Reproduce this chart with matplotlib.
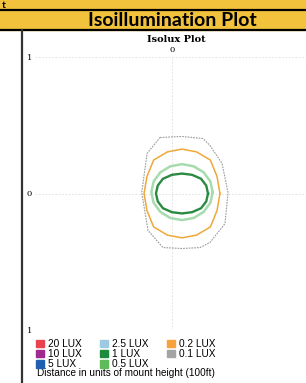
import matplotlib.pyplot as plt
import numpy as np
from matplotlib.patches import Rectangle
from matplotlib.lines import Line2D

W, H = 306, 383

# legend levels
lux_levels = ["20 LUX", "10 LUX", "5 LUX", "2.5 LUX", "1 LUX", "0.5 LUX", "0.2 LUX", "0.1 LUX"]
lux_colors = ["#e8434f", "#a12a8e", "#1f5fb2", "#9ccae2", "#1e8a3c", "#5dbb5a", "#f5a33a", "#a4a4a4"]

# contour outlines (units of mount height)
c01_x = [-0.088, 0.073, 0.226, 0.277, 0.365, 0.409, 0.387, 0.277, 0.204, 0.073, -0.066, -0.175, -0.221, -0.182, -0.088]
c01_y = [0.410, 0.418, 0.403, 0.352, 0.220, 0.007, -0.220, -0.359, -0.396, -0.403, -0.396, -0.271, 0.007, 0.293, 0.410]

c02_x = [0.350, 0.329, 0.280, 0.179, 0.073, -0.033, -0.134, -0.183, -0.204, -0.183, -0.134, -0.033, 0.073, 0.179, 0.280, 0.329, 0.350]
c02_y = [0.000, 0.124, 0.245, 0.305, 0.325, 0.305, 0.245, 0.124, 0.000, -0.124, -0.245, -0.305, -0.325, -0.305, -0.245, -0.124, 0.000]

c05_x = [0.297, 0.280, 0.231, 0.159, 0.073, -0.013, -0.085, -0.134, -0.151, -0.134, -0.085, -0.013, 0.073, 0.159, 0.231, 0.280, 0.297]
c05_y = [0.010, 0.088, 0.155, 0.199, 0.215, 0.199, 0.155, 0.088, 0.010, -0.068, -0.135, -0.179, -0.195, -0.179, -0.135, -0.068, 0.010]

c1_x = [0.263, 0.250, 0.212, 0.146, 0.073, 0.000, -0.066, -0.104, -0.117, -0.104, -0.066, 0.000, 0.073, 0.146, 0.212, 0.250, 0.263]
c1_y = [0.000, 0.058, 0.108, 0.137, 0.146, 0.137, 0.108, 0.058, 0.000, -0.058, -0.108, -0.137, -0.146, -0.137, -0.108, -0.058, 0.000]

fig = plt.figure(figsize=(W / 100, H / 100), dpi=100)

def fx(px):
    return px / W

def fy(py):
    return 1 - py / H

# header bands
yellow = "#f2c23c"
fig.patches.append(Rectangle((0, fy(30)), 1, 30 / H, transform=fig.transFigure, color=yellow, zorder=0))
fig.lines.append(Line2D([0, 1], [fy(9.5), fy(9.5)], transform=fig.transFigure, color="black", lw=1.6))
fig.lines.append(Line2D([0, 1], [fy(30), fy(30)], transform=fig.transFigure, color="black", lw=1.6))
fig.lines.append(Line2D([fx(21.5), fx(21.5)], [fy(30), 0], transform=fig.transFigure, color="#333333", lw=1.6))
fig.text(fx(1.5), fy(8.3), "t", fontsize=7.5, fontweight="bold", family="Lato", va="baseline", ha="left")
fig.text(fx(172), fy(20), "Isoillumination Plot", fontsize=14, fontweight="bold", family="Lato",
         va="center", ha="center")
fig.text(fx(176), fy(40), "Isolux Plot", fontsize=7, fontweight="bold", family="DejaVu Serif",
         va="center", ha="center")

ax = fig.add_axes([fx(35), fy(330), 274 / W, 273 / H])
ax.set_xlim(-1, 1)
ax.set_ylim(-1, 1)
for s in ax.spines.values():
    s.set_visible(False)
ax.set_yticks([-1, 0, 1])
ax.set_yticklabels(["1", "0", "1"], fontsize=6, family="DejaVu Serif")
ax.xaxis.tick_top()
ax.set_xticks([0])
ax.set_xticklabels(["0"], fontsize=6, family="DejaVu Serif")
ax.tick_params(length=0, pad=2)
ax.grid(True, color="#dedede", lw=0.6, ls=(0, (2, 2)))
ax.set_axisbelow(True)

ax.plot(c01_x, c01_y, color="#9a9a9a", lw=0.8, ls=(0, (1.5, 1)))
ax.plot(c02_x, c02_y, color="#f0a838", lw=1.1)
ax.plot(c05_x, c05_y, color="#a6dcad", lw=1.8)
ax.plot(c1_x, c1_y, color="#2a8a42", lw=1.7)

# legend
handles = [Rectangle((0, 0), 1, 1, color=c) for c in lux_colors]
fig.legend(handles, lux_levels, ncol=3, loc="upper left", bbox_to_anchor=(fx(36), fy(339)),
           frameon=False, prop={"family": "Liberation Sans", "size": 7.3},
           handlelength=0.75, handleheight=0.75, handletextpad=0.45, columnspacing=1.8,
           labelspacing=0.02, borderpad=0, borderaxespad=0)
fig.text(fx(37), fy(373), "Distance in units of mount height (100ft)", fontsize=7.2,
         family="Liberation Sans", va="center", ha="left")

fig.savefig("out.png", dpi=100)
